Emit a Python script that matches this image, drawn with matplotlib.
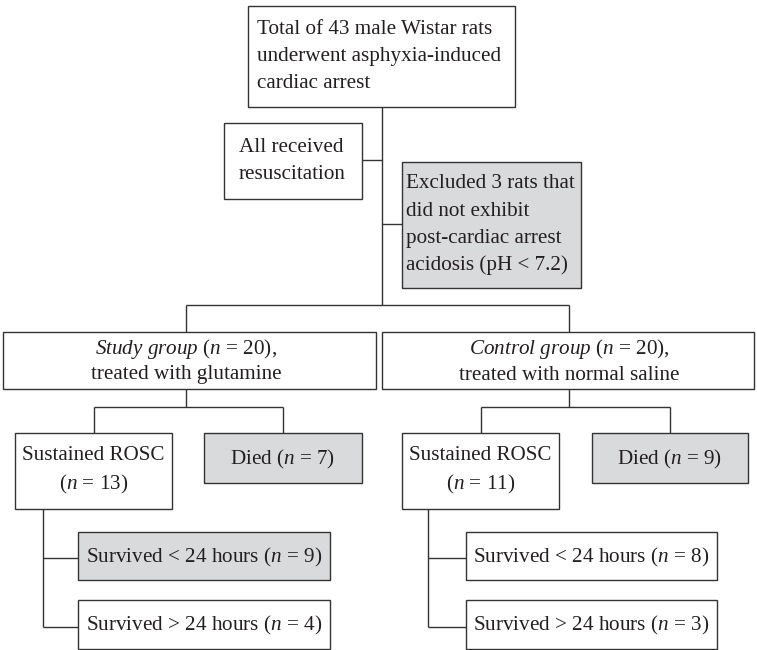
import matplotlib
matplotlib.use("Agg")
import matplotlib.pyplot as plt
from matplotlib.patches import Rectangle

plt.rcParams['font.family'] = ['Liberation Serif', 'DejaVu Serif']
plt.rcParams['mathtext.fontset'] = 'custom'
plt.rcParams['mathtext.it'] = 'Liberation Serif:italic'
plt.rcParams['mathtext.rm'] = 'Liberation Serif'

# ---- data ----
total_rats = 43
excluded_rats = 3
ph_threshold = 7.2
group_names = ["Study group", "Control group"]
group_treatments = ["treated with glutamine", "treated with normal saline"]
group_n = [20, 20]
rosc_n = [13, 11]
died_n = [7, 9]
survived_lt24_n = [9, 8]
survived_gt24_n = [4, 3]
gray_boxes_lt24 = [True, False]

# ---- layout ----
W, H = 757, 650
fig = plt.figure(figsize=(W / 100, H / 100), dpi=100)
ax = fig.add_axes([0, 0, 1, 1])
ax.set_xlim(0, W)
ax.set_ylim(H, 0)
ax.axis('off')

LC = '#333333'
LW = 1.0
GRAY = '#d9dadc'
FS = 15.2
EQ = " = "


def box(x0, y0, x1, y1, fill='white'):
    ax.add_patch(Rectangle((x0, y0), x1 - x0, y1 - y0, facecolor=fill,
                           edgecolor=LC, linewidth=LW, zorder=2))


def line(xs, ys):
    ax.plot(xs, ys, color=LC, lw=LW, zorder=1, solid_capstyle='butt')


def txt(x, y, s, ha='center', va='center'):
    ax.text(x, y, s, ha=ha, va=va, fontsize=FS, color='#231f20', zorder=3)


# top box
box(248, 6, 515, 107)
top_lines = ["Total of %d male Wistar rats" % total_rats,
             "underwent asphyxia-induced", "cardiac arrest"]
for i, s in enumerate(top_lines):
    txt(257, 29 + i * 27.5, s, ha='left')

# central trunk
line([382, 382], [107, 305])

# resuscitation box
box(224, 123, 362, 199)
line([362, 382], [160, 160])
for i, s in enumerate(["All received", "resuscitation"]):
    txt(239, 147 + i * 27.5, s, ha='left')

# exclusion box
box(402, 162, 581, 288, fill=GRAY)
line([382, 402], [224, 224])
excl_lines = ["Excluded %d rats that" % excluded_rats, "did not exhibit",
              "post-cardiac arrest", "acidosis (pH < %.1f)" % ph_threshold]
for i, s in enumerate(excl_lines):
    txt(406, 184 + i * 27, s, ha='left')

# split into groups
group_cx = [186, 569]
line([group_cx[0], group_cx[1]], [305, 305])
group_box = [(3, 376), (382, 754)]
rosc_box = [(15, 172), (402, 559)]
died_box = [(204, 362), (592, 748)]
surv_box = [(78, 330), (466, 717)]
trunk_x = [43, 428]

for g in range(2):
    cx = group_cx[g]
    line([cx, cx], [305, 332])
    x0, x1 = group_box[g]
    box(x0, 332, x1, 389)
    txt(cx, 349, r"$\mathit{%s}$ ($n$%s%d)," % (group_names[g].replace(' ', r'\ '), EQ, group_n[g]))
    txt(cx, 375, group_treatments[g])

    # branch to ROSC / died
    rx0, rx1 = rosc_box[g]
    dx0, dx1 = died_box[g]
    rcx = (rx0 + rx1) / 2
    dcx = (dx0 + dx1) / 2
    line([cx, cx], [389, 407])
    line([rcx, dcx], [407, 407])
    line([rcx, rcx], [407, 433])
    line([dcx, dcx], [407, 433])
    box(rx0, 433, rx1, 509)
    txt(rcx, 456, "Sustained ROSC")
    txt(rcx, 484, r"($n$%s%d)" % (EQ, rosc_n[g]))
    box(dx0, 433, dx1, 483, fill=GRAY)
    txt(dcx, 459, r"Died ($n$%s%d)" % (EQ, died_n[g]))

    # survival branch
    tx = trunk_x[g]
    sx0, sx1 = surv_box[g]
    scx = (sx0 + sx1) / 2
    line([tx, tx], [509, 627])
    line([tx, sx0], [558, 558])
    line([tx, sx0], [627, 627])
    box(sx0, 532, sx1, 580, fill=GRAY if gray_boxes_lt24[g] else 'white')
    txt(scx, 557, r"Survived < 24 hours ($n$%s%d)" % (EQ, survived_lt24_n[g]))
    box(sx0, 600, sx1, 649)
    txt(scx, 625, r"Survived > 24 hours ($n$%s%d)" % (EQ, survived_gt24_n[g]))

fig.savefig("out.png", dpi=100)
